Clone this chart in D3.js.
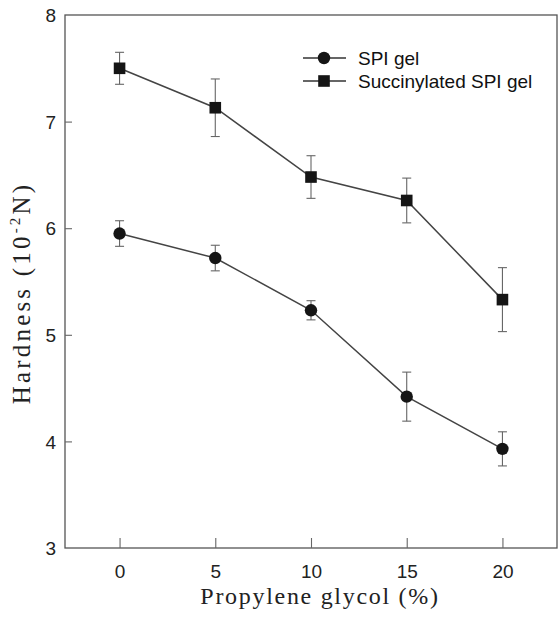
<!DOCTYPE html>
<html>
<head>
<meta charset="utf-8">
<script src="https://cdn.jsdelivr.net/npm/d3@7"></script>
<style>
  html, body { margin: 0; padding: 0; background: #fff; }
  svg { display: block; }
  .tick-label { font-family: "Liberation Sans", Arial, sans-serif; font-size: 19px; fill: #222; }
  .axis-title { font-family: "Liberation Serif", "Times New Roman", serif; fill: #222; }
  .legend-label { font-family: "Liberation Sans", Arial, sans-serif; font-size: 19px; fill: #111; }
</style>
</head>
<body>
<div id="chart"></div>
<script>
// Data
const glycol = [0, 5, 10, 15, 20];

const spiMean = [5.95, 5.72, 5.23, 4.42, 3.93];
const spiErr  = [0.12, 0.12, 0.09, 0.23, 0.16];

const sucMean = [7.50, 7.13, 6.48, 6.26, 5.33];
const sucErr  = [0.15, 0.27, 0.20, 0.21, 0.30];

const xTicks = [0, 5, 10, 15, 20];
const yTicks = [3, 4, 5, 6, 7, 8];

const seriesNames = ['SPI gel', 'Succinylated SPI gel'];

const W = 558, H = 617;
const PLOT = { left: 65, right: 557, top: 15, bottom: 548 };

const svg = d3.select('#chart').append('svg')
  .attr('width', W)
  .attr('height', H);

const x = d3.scaleLinear().domain([-2.85, 22.85]).range([PLOT.left, PLOT.right]);
const y = d3.scaleLinear().domain([3, 8]).range([PLOT.bottom, PLOT.top]);

// frame
svg.append('rect')
  .attr('x', PLOT.left)
  .attr('y', PLOT.top)
  .attr('width', PLOT.right - PLOT.left)
  .attr('height', PLOT.bottom - PLOT.top)
  .attr('fill', 'none')
  .attr('stroke', '#555')
  .attr('stroke-width', 1.3);

// axes: inward ticks
const xAxis = svg.append('g')
  .attr('transform', `translate(0,${PLOT.bottom})`)
  .call(d3.axisBottom(x).tickValues(xTicks).tickFormat(d3.format('d'))
    .tickSizeInner(-10).tickSizeOuter(0));
xAxis.attr('font-size', null).attr('font-family', null);
xAxis.select('.domain').remove();
xAxis.selectAll('.tick line').attr('stroke', '#666').attr('stroke-width', 1.1);
xAxis.selectAll('.tick text')
  .attr('class', 'tick-label')
  .attr('y', 30)
  .attr('dy', 0);

const yAxis = svg.append('g')
  .attr('transform', `translate(${PLOT.left},0)`)
  .call(d3.axisLeft(y).tickValues(yTicks).tickFormat(d3.format('d'))
    .tickSizeInner(-7).tickSizeOuter(0));
yAxis.attr('font-size', null).attr('font-family', null);
yAxis.select('.domain').remove();
yAxis.selectAll('.tick line').attr('stroke', '#666').attr('stroke-width', 1.1);
yAxis.selectAll('.tick line').filter(d => d === 3 || d === 8).remove();
yAxis.selectAll('.tick text')
  .attr('class', 'tick-label')
  .attr('x', -9)
  .attr('dy', '0.35em');

// axis titles
svg.append('text')
  .attr('class', 'axis-title')
  .attr('x', 320)
  .attr('y', 604)
  .attr('text-anchor', 'middle')
  .style('font-size', '24px')
  .style('letter-spacing', '1.7px')
  .text('Propylene glycol (%)');

const yTitle = svg.append('text')
  .attr('class', 'axis-title')
  .attr('transform', 'translate(30,293) rotate(-90)')
  .attr('text-anchor', 'middle')
  .style('font-size', '25px')
  .style('letter-spacing', '3.2px');
yTitle.append('tspan').text('Hardness (10');
yTitle.append('tspan').attr('dy', -10).style('font-size', '15px').text('-2');
yTitle.append('tspan').attr('dy', 10).text('N)');

const series = [
  { name: seriesNames[0], mean: spiMean, err: spiErr, shape: 'circle' },
  { name: seriesNames[1], mean: sucMean, err: sucErr, shape: 'square' }
];

const line = d3.line().x(d => x(d.x)).y(d => y(d.y));

function drawMarker(g, shape, cx, cy) {
  if (shape === 'circle') {
    g.append('circle').attr('cx', cx).attr('cy', cy).attr('r', 6.2).attr('fill', '#151515');
  } else {
    g.append('rect').attr('x', cx - 5.8).attr('y', cy - 5.8).attr('width', 11.6).attr('height', 11.6).attr('fill', '#151515');
  }
}

series.forEach(s => {
  const pts = glycol.map((g, i) => ({ x: g, y: s.mean[i], e: s.err[i] }));
  const g = svg.append('g');

  // error bars
  const eb = g.selectAll('.eb').data(pts).join('g');
  eb.append('line')
    .attr('x1', d => x(d.x)).attr('x2', d => x(d.x))
    .attr('y1', d => y(d.y + d.e)).attr('y2', d => y(d.y - d.e))
    .attr('stroke', '#666').attr('stroke-width', 1.1);
  [1, -1].forEach(sign => {
    eb.append('line')
      .attr('x1', d => x(d.x) - 4.5).attr('x2', d => x(d.x) + 4.5)
      .attr('y1', d => y(d.y + sign * d.e)).attr('y2', d => y(d.y + sign * d.e))
      .attr('stroke', '#666').attr('stroke-width', 1.1);
  });

  g.append('path')
    .datum(pts)
    .attr('d', line)
    .attr('fill', 'none')
    .attr('stroke', '#444')
    .attr('stroke-width', 1.5);

  pts.forEach(p => drawMarker(g, s.shape, x(p.x), y(p.y)));
});

// legend
const legend = svg.append('g');
series.forEach((s, i) => {
  const ly = 58 + i * 23;
  legend.append('line')
    .attr('x1', 303).attr('x2', 346).attr('y1', ly).attr('y2', ly)
    .attr('stroke', '#333').attr('stroke-width', 1.5);
  drawMarker(legend, s.shape, 324, ly);
  legend.append('text')
    .attr('class', 'legend-label')
    .attr('x', 358)
    .attr('y', ly + 7)
    .text(s.name);
});
</script>
</body>
</html>
